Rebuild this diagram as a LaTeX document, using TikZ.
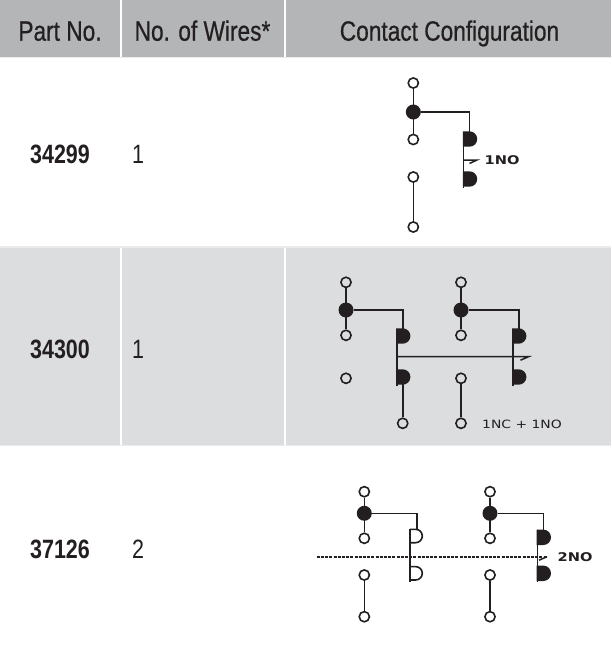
\documentclass[tikz,border=0pt]{standalone}
\usepackage{fontspec}
\usepackage{graphicx}
\setmainfont{Liberation Sans}
\newfontfamily\condfont{Liberation Sans}[FakeStretch=0.81]
\newfontfamily\condmedfont{Liberation Sans}[FakeStretch=0.81,FakeBold=0.6]
\newfontfamily\labfont{DejaVu Sans}
\newcommand\widetext[1]{\scalebox{1.22}[1]{#1}}
\definecolor{hdr}{HTML}{B4B5B7}
\definecolor{alt}{HTML}{DCDDDF}
\definecolor{sepc}{HTML}{EBEBEB}
\definecolor{ink}{HTML}{231F20}
\tikzset{
  oc/.style={circle,draw=ink,line width=1.6pt,inner sep=0pt,minimum size=10.2pt},
  fc/.style={circle,fill=ink,inner sep=0pt,minimum size=15pt},
  wire/.style={draw=ink,line width=1.6pt},
  act/.style={draw=ink,line width=1.5pt},
  dline/.style={draw=ink,line width=1.6pt,dash pattern=on 3pt off 1.2pt},
  hdrtxt/.style={font=\condmedfont\fontsize{28}{30}\selectfont,text=ink,anchor=base,inner sep=0pt},
  partno/.style={font=\condfont\bfseries\fontsize{26.5}{28}\selectfont,text=ink,anchor=base,inner sep=0pt},
  wires/.style={font=\condfont\fontsize{26.5}{28}\selectfont,text=ink,anchor=base,inner sep=0pt},
  lbl/.style={font=\labfont\fontsize{11.4}{13}\selectfont,text=ink,anchor=base west,inner sep=0pt},
  lblb/.style={font=\labfont\bfseries\fontsize{12}{13}\selectfont,text=ink,anchor=base west,inner sep=0pt},
  fD/.pic={\fill[ink] (-0.6,-7.7) -- (6,-7.7) arc(-90:90:7.7) -- (-0.6,7.7) -- cycle;},
  oD/.pic={\draw[ink,line width=1.6pt] (0,-6.7) -- (5.6,-6.7) arc(-90:90:6.7) -- (0,6.7);}
}
\begin{document}
\begin{tikzpicture}[x=1pt,y=-1pt]
\useasboundingbox (0,0) rectangle (611,645);
% table backgrounds
\fill[white] (0,0) rectangle (611,645);
\fill[hdr] (0,0) rectangle (611,57);
\fill[alt] (0,247) rectangle (611,445);
\draw[sepc,line width=1.8pt] (0,57.5) -- (611,57.5);
\draw[sepc,line width=1.8pt] (0,247) -- (611,247);
\draw[sepc,line width=1.8pt] (0,445.5) -- (611,445.5);
\draw[white,line width=2pt] (121,0) -- (121,56.5) (285,0) -- (285,56.5);
\draw[white,line width=2pt] (121,248) -- (121,444.5) (285,248) -- (285,444.5);
% header
\node[hdrtxt] (h1) at (60,40.7) {Part No.};
\node[hdrtxt] (h2) at (202.5,40.7) {No. of Wires*};
\node[hdrtxt] (h3) at (449.5,40.7) {Contact Configuration};
% row texts
\node[partno] (p1) at (60,163.3) {34299};
\node[wires] (w1) at (138,163.3) {1};
\node[partno] (p2) at (60,358.3) {34300};
\node[wires] (w2) at (138,358.3) {1};
\node[partno] (p3) at (60,558.3) {37126};
\node[wires] (w3) at (138,558.3) {2};

% ---------- row 1 ----------
\node[oc] (a1) at (413.3,83) {};
\node[fc] (a2) at (413.3,112) {};
\node[oc] (a3) at (413.3,139.5) {};
\node[oc] (a4) at (413.3,177) {};
\node[oc] (a5) at (413.3,227) {};
\draw[wire] (a1) -- (a3);
\draw[wire] (a4) -- (a5);
\coordinate (a6) at (469.5,132);
\draw[wire] (a2) -| (a6);
\pic at (463.5,139) {fD};
\pic at (463.5,179) {fD};
\coordinate (a7) at (463.5,131.5);
\coordinate (a8) at (463.5,187.5);
\draw[wire] (a7) -- (a8);
\coordinate (a9) at (463.5,160);
\coordinate (a10) at (477,160);
\draw[act] (a9) -- (a10) -- ++(-7.5,3.5);
\node[lblb] (a11) at (484.5,164) {\widetext{1NO}};

% ---------- row 2 ----------
\node[oc] (b1) at (346,282.3) {};
\node[fc] (b2) at (346,310) {};
\node[oc] (b3) at (346,335.3) {};
\node[oc] (b4) at (346,378.3) {};
\draw[wire] (b1) -- (b3);
\coordinate (b5) at (402.7,329);
\draw[wire] (b2) -| (b5);
\pic at (396.7,336) {fD};
\pic at (396.7,377) {fD};
\coordinate (b6) at (396.7,328.5);
\coordinate (b7) at (396.7,385.5);
\draw[wire] (b6) -- (b7);
\coordinate (b8) at (402.7,384);
\node[oc] (b9) at (402.7,423.3) {};
\draw[wire] (b8) -- (b9);
\node[oc] (c1) at (461,282.3) {};
\node[fc] (c2) at (461,310) {};
\node[oc] (c3) at (461,335.3) {};
\draw[wire] (c1) -- (c3);
\coordinate (c4) at (519,329);
\draw[wire] (c2) -| (c4);
\pic at (512.7,336) {fD};
\pic at (512.7,377) {fD};
\coordinate (c5) at (512.7,328.5);
\coordinate (c6) at (512.7,385.5);
\draw[wire] (c5) -- (c6);
\node[oc] (c7) at (461,378.3) {};
\node[oc] (c8) at (461,423.3) {};
\draw[wire] (c7) -- (c8);
\coordinate (c9) at (396.7,356.7);
\coordinate (c10) at (528.5,356.7);
\draw[act] (c9) -- (c10) -- ++(-8,3.5);
\node[lbl] (c11) at (482,428.3) {\widetext{1NC + 1NO}};

% ---------- row 3 ----------
\node[oc] (d1) at (364.3,491.7) {};
\node[fc] (d2) at (364.3,513.3) {};
\node[oc] (d3) at (364.3,538.3) {};
\node[oc] (d4) at (364.3,575) {};
\node[oc] (d5) at (364.3,616.7) {};
\draw[wire] (d1) -- (d3);
\draw[wire] (d4) -- (d5);
\coordinate (d6) at (416.7,529.5);
\draw[wire] (d2) -| (d6);
\pic at (410,536) {oD};
\pic at (410,573.3) {oD};
\coordinate (d7) at (410,528.5);
\coordinate (d8) at (410,582);
\draw[wire] (d7) -- (d8);
\node[oc] (e1) at (490,491.7) {};
\node[fc] (e2) at (490,513.3) {};
\node[oc] (e3) at (490,538.3) {};
\node[oc] (e4) at (490,575) {};
\node[oc] (e5) at (490,616.7) {};
\draw[wire] (e1) -- (e3);
\draw[wire] (e4) -- (e5);
\coordinate (e6) at (543.3,530);
\draw[wire] (e2) -| (e6);
\pic at (537.3,537.3) {fD};
\pic at (537.3,573.3) {fD};
\coordinate (e7) at (537.3,529.5);
\coordinate (e8) at (537.3,582);
\draw[wire] (e7) -- (e8);
\coordinate (f1) at (316.7,556.7);
\coordinate (f2) at (547,556.7);
\draw[dline] (f1) -- (f2);
\draw[act] (f2) -- ++(-8,3.5);
\node[lblb] (f3) at (557.5,561.7) {\widetext{2NO}};
\end{tikzpicture}
\end{document}
